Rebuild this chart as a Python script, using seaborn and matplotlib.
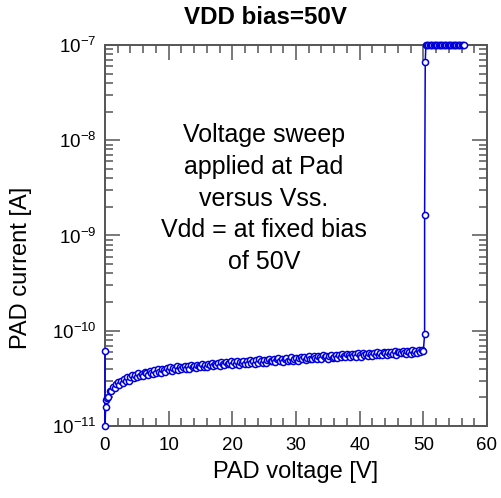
import matplotlib
matplotlib.use("Agg")
import matplotlib.pyplot as plt
import numpy as np
import pandas as pd
import seaborn as sns
from matplotlib.ticker import MultipleLocator, FixedLocator, LogLocator, NullFormatter

# ---------------- data ----------------
start_v = [0.0, 0.0, 0.1, 0.2]
start_pA = [62.0, 10.0, 15.8, 18.8]

sweep_v = [
    0.25, 0.5, 0.75, 1.0, 1.25, 1.5, 1.75, 2.0, 2.25, 2.5,
    2.75, 3.0, 3.25, 3.5, 3.75, 4.0, 4.25, 4.5, 4.75, 5.0,
    5.25, 5.5, 5.75, 6.0, 6.25, 6.5, 6.75, 7.0, 7.25, 7.5,
    7.75, 8.0, 8.25, 8.5, 8.75, 9.0, 9.25, 9.5, 9.75, 10.0,
    10.25, 10.5, 10.75, 11.0, 11.25, 11.5, 11.75, 12.0, 12.25, 12.5,
    12.75, 13.0, 13.25, 13.5, 13.75, 14.0, 14.25, 14.5, 14.75, 15.0,
    15.25, 15.5, 15.75, 16.0, 16.25, 16.5, 16.75, 17.0, 17.25, 17.5,
    17.75, 18.0, 18.25, 18.5, 18.75, 19.0, 19.25, 19.5, 19.75, 20.0,
    20.25, 20.5, 20.75, 21.0, 21.25, 21.5, 21.75, 22.0, 22.25, 22.5,
    22.75, 23.0, 23.25, 23.5, 23.75, 24.0, 24.25, 24.5, 24.75, 25.0,
    25.25, 25.5, 25.75, 26.0, 26.25, 26.5, 26.75, 27.0, 27.25, 27.5,
    27.75, 28.0, 28.25, 28.5, 28.75, 29.0, 29.25, 29.5, 29.75, 30.0,
    30.25, 30.5, 30.75, 31.0, 31.25, 31.5, 31.75, 32.0, 32.25, 32.5,
    32.75, 33.0, 33.25, 33.5, 33.75, 34.0, 34.25, 34.5, 34.75, 35.0,
    35.25, 35.5, 35.75, 36.0, 36.25, 36.5, 36.75, 37.0, 37.25, 37.5,
    37.75, 38.0, 38.25, 38.5, 38.75, 39.0, 39.25, 39.5, 39.75, 40.0,
    40.25, 40.5, 40.75, 41.0, 41.25, 41.5, 41.75, 42.0, 42.25, 42.5,
    42.75, 43.0, 43.25, 43.5, 43.75, 44.0, 44.25, 44.5, 44.75, 45.0,
    45.25, 45.5, 45.75, 46.0, 46.25, 46.5, 46.75, 47.0, 47.25, 47.5,
    47.75, 48.0, 48.25, 48.5, 48.75, 49.0, 49.25, 49.5, 49.75, 50.0,
]
sweep_pA = [
    19.9, 20.4, 23.5, 23.2, 25.9, 24.8, 27.3, 28.8, 27.2, 29.4,
    28.2, 31.4, 30.0, 32.6, 30.0, 32.3, 34.2, 31.9, 34.3, 32.4,
    36.1, 33.7, 35.5, 33.5, 36.7, 36.0, 34.7, 38.2, 36.1, 35.0,
    38.5, 36.2, 39.6, 37.3, 36.2, 39.4, 38.9, 37.3, 40.9, 38.6,
    41.6, 38.2, 40.7, 39.9, 42.3, 38.6, 42.0, 40.1, 41.6, 43.1,
    40.1, 42.8, 39.7, 44.2, 41.4, 43.1, 40.6, 44.1, 42.7, 41.6,
    45.1, 41.8, 44.1, 41.4, 45.1, 43.5, 46.2, 42.3, 44.7, 43.4,
    45.7, 42.4, 46.7, 44.4, 43.5, 47.2, 44.4, 46.2, 47.8, 43.8,
    47.4, 44.8, 48.5, 44.1, 46.9, 46.1, 48.5, 45.1, 47.8, 44.7,
    49.3, 46.4, 47.6, 45.1, 49.3, 46.3, 50.3, 47.8, 46.3, 49.3,
    46.3, 49.9, 50.9, 47.6, 48.5, 50.8, 46.9, 50.1, 51.3, 48.0,
    50.9, 47.3, 50.4, 52.2, 48.6, 49.6, 52.7, 48.6, 50.8, 52.3,
    48.5, 51.8, 53.2, 50.0, 52.7, 49.0, 52.0, 53.9, 50.9, 50.3,
    54.5, 51.2, 50.1, 54.0, 53.1, 50.9, 55.4, 52.6, 54.3, 50.8,
    54.3, 55.8, 52.0, 53.2, 55.8, 51.7, 55.4, 53.0, 56.8, 53.7,
    52.5, 56.4, 55.2, 52.4, 57.3, 54.5, 56.4, 53.6, 58.0, 56.0,
    53.4, 58.0, 55.2, 57.6, 54.6, 59.1, 56.4, 54.5, 58.6, 55.9,
    59.4, 55.7, 58.0, 55.0, 59.5, 57.8, 55.8, 60.5, 57.1, 59.5,
    56.5, 60.7, 56.2, 59.6, 60.4, 57.7, 61.6, 58.6, 57.2, 61.0,
    60.0, 57.5, 62.2, 58.6, 61.1, 58.2, 62.5, 59.6, 62.2, 61.0,
]
breakdown_v = [50.2, 50.2, 50.3]
breakdown_pA = [92.0, 1630.0, 66000.0]
compliance_v = [50.4, 50.6, 50.8, 51.0, 51.2, 51.4, 51.6, 51.8, 52.0, 52.2,
                52.4, 52.6, 52.8, 53.0, 53.2, 53.4, 53.6, 53.8, 54.0, 54.2,
                54.4, 54.6, 54.8, 55.0, 55.2, 55.4, 55.6, 55.8, 56.0, 56.2, 56.4]
compliance_limit_pA = 100000.0

ytick_values = [1e-11, 1e-10, 1e-9, 1e-8, 1e-7]
ytick_labels = [r"$10^{-11}$", r"$10^{-10}$", r"$10^{-9}$", r"$10^{-8}$", r"$10^{-7}$"]
xtick_values = [0, 10, 20, 30, 40, 50, 60]

title_text = "VDD bias=50V"
xlabel_text = "PAD voltage [V]"
ylabel_text = "PAD current [A]"
note_text = "Voltage sweep\napplied at Pad\nversus Vss.\nVdd = at fixed bias\nof 50V"

# ---------------- table ----------------
v_all = start_v + sweep_v + breakdown_v + compliance_v
i_all_pA = start_pA + sweep_pA + breakdown_pA + [compliance_limit_pA] * len(compliance_v)
df = pd.DataFrame({"V": v_all, "I": np.array(i_all_pA) * 1e-12})

# ---------------- style ----------------
sns.set_style("ticks")
plt.rcParams["font.family"] = ["Liberation Sans", "DejaVu Sans"]
plt.rcParams["mathtext.fontset"] = "custom"
plt.rcParams["mathtext.rm"] = "Liberation Sans"
plt.rcParams["mathtext.it"] = "Liberation Sans:italic"
plt.rcParams["mathtext.bf"] = "Liberation Sans:bold"
plt.rcParams["text.color"] = "black"
plt.rcParams["axes.labelcolor"] = "black"
plt.rcParams["xtick.labelcolor"] = "black"
plt.rcParams["ytick.labelcolor"] = "black"

fig = plt.figure(figsize=(5.02, 4.98), dpi=100)
ax = fig.add_axes([105 / 502, 1 - 426 / 498, (487 - 105) / 502, (426 - 45) / 498])

blue = "#0000DD"
sns.lineplot(data=df, x="V", y="I", sort=False, estimator=None, ax=ax,
             color=blue, linewidth=1.1, marker="o", markersize=4.4,
             markerfacecolor="white", markeredgecolor=blue, markeredgewidth=1.1)
for ln in ax.lines:
    ln.set_clip_on(False)
    ln.set_zorder(5)

ax.set_yscale("log")
ax.set_xlim(0, 60)
ax.set_ylim(1e-11, 1e-7)

ax.xaxis.set_major_locator(FixedLocator(xtick_values))
ax.xaxis.set_minor_locator(MultipleLocator(2))
ax.set_xticklabels([str(v) for v in xtick_values])
ax.yaxis.set_major_locator(FixedLocator(ytick_values))
ax.set_yticklabels(ytick_labels)
ax.yaxis.set_minor_locator(LogLocator(base=10, subs=np.arange(2, 10), numticks=20))
ax.yaxis.set_minor_formatter(NullFormatter())

spine_col = "#555555"
for s in ax.spines.values():
    s.set_color(spine_col)
    s.set_linewidth(1.4)
    s.set_visible(True)
ax.tick_params(which="both", direction="in", top=True, right=True, color=spine_col, width=1.1)
ax.tick_params(which="major", length=11)
ax.tick_params(which="minor", length=5.5)
ax.tick_params(axis="x", which="major", labelsize=13.5, pad=8)
ax.tick_params(axis="y", which="major", labelsize=13.5, pad=6)

ax.set_xlabel(xlabel_text, fontsize=17, color="black")
ax.xaxis.set_label_coords(0.5, -0.092)
ax.set_ylabel(ylabel_text, fontsize=17, color="black")
ax.yaxis.set_label_coords(-0.19, 0.415)

fig.text(266 / 502, 1 - 17 / 498, title_text, ha="center", va="center",
         fontsize=17.4, fontweight="bold", color="black")
fig.text(264 / 502, 1 - 198.5 / 498, note_text, ha="center", va="center",
         multialignment="center", fontsize=18, linespacing=1.41, color="black")

fig.savefig("out.png", dpi=100, facecolor="white")
